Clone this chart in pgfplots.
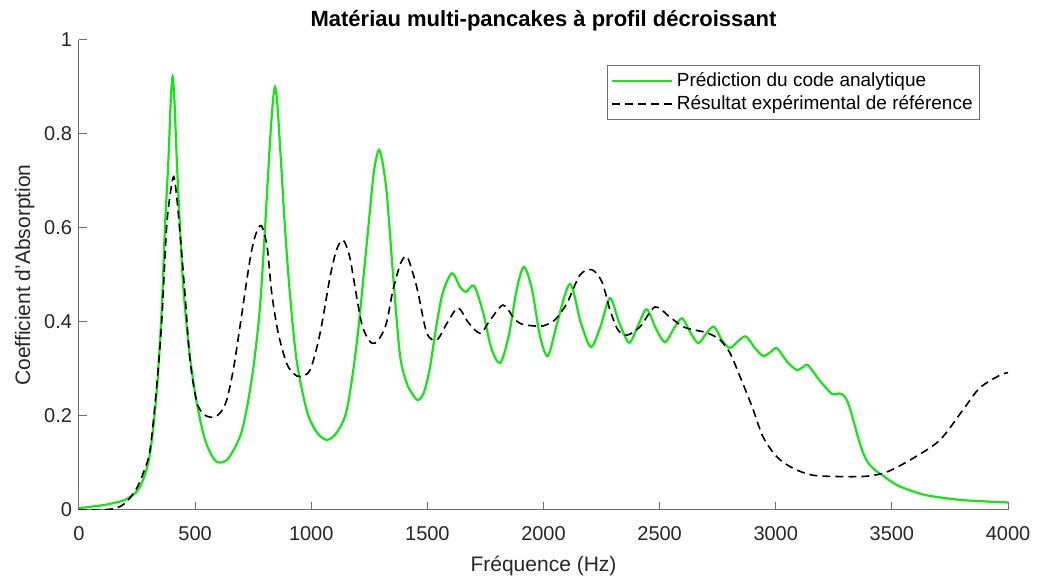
\documentclass[border=0pt]{standalone}
\usepackage{fontspec}
\setmainfont{Liberation Sans}
\usepackage{pgfplots}
\pgfplotsset{compat=1.18}
\definecolor{mygreen}{RGB}{20,230,20}
\definecolor{axgray}{RGB}{110,110,110}
\definecolor{txt}{RGB}{38,38,38}
\begin{document}
\begin{tikzpicture}
\begin{axis}[
  scale only axis,
  width=464.5pt, height=235pt,
  xmin=0, xmax=4000, ymin=0, ymax=1,
  axis x line*=bottom, axis y line*=left,
  axis line style={axgray, line width=0.5pt},
  xtick={0,500,...,4000},
  ytick={0,0.2,0.4,0.6,0.8,1},
  yticklabels={0,0.2,0.4,0.6,0.8,1},
  xticklabels={0,500,1000,1500,2000,2500,3000,3500,4000},
  tick align=inside,
  major tick length=4pt,
  tick style={axgray, line width=0.5pt},
  /pgf/number format/assume math mode=true,
  tick label style={font=\fontsize{10}{12}\selectfont, text=txt},
  xticklabel style={yshift=-4.5pt},
  title={\bfseries Matériau multi-pancakes à profil décroissant},
  title style={font=\fontsize{11}{13}\selectfont, text=black, yshift=-5pt},
  xlabel={Fréquence (Hz)},
  ylabel={Coefficient d'Absorption},
  label style={font=\fontsize{10.5}{12}\selectfont, text=txt},
  xlabel style={yshift=-1pt},
  ylabel style={yshift=-2pt},
  legend style={at={(0.97,0.947)}, anchor=north east, draw=axgray, line width=0.5pt,
    font=\fontsize{9.5}{11.5}\selectfont, text=black, inner sep=1.5pt, row sep=-1pt},
  legend image code/.code={\draw[#1] (0cm,0cm) -- (1.05cm,0cm);},
  legend cell align=left,
]
\addplot[mygreen, line width=1.1pt, smooth, tension=0.5] coordinates {
(0,0.004)(100,0.010)(150,0.015)(200,0.022)(250,0.040)(280,0.07)(306,0.121)(334,0.248)(356,0.425)(370,0.60)(385,0.745)(395,0.87)(403,0.922)(411,0.87)(421,0.745)(435,0.60)(449,0.475)(471,0.355)(500,0.248)(535,0.163)(565,0.122)(595,0.102)(640,0.108)(693,0.156)(720,0.21)(750,0.30)(779,0.43)(801,0.60)(822,0.78)(835,0.87)(844,0.90)(853,0.87)(865,0.78)(887,0.60)(908,0.461)(937,0.319)(980,0.213)(1020,0.168)(1066,0.149)(1110,0.165)(1153,0.213)(1196,0.355)(1239,0.567)(1267,0.709)(1283,0.755)(1292,0.766)(1305,0.745)(1325,0.674)(1353,0.496)(1382,0.33)(1411,0.27)(1438,0.245)(1460,0.234)(1485,0.25)(1510,0.30)(1535,0.38)(1565,0.46)(1606,0.504)(1640,0.475)(1666,0.464)(1701,0.477)(1740,0.42)(1775,0.345)(1813,0.313)(1850,0.37)(1885,0.47)(1916,0.517)(1950,0.47)(1985,0.37)(2019,0.328)(2060,0.40)(2114,0.481)(2160,0.40)(2204,0.347)(2245,0.39)(2286,0.451)(2325,0.40)(2368,0.356)(2405,0.39)(2444,0.427)(2485,0.385)(2523,0.357)(2560,0.385)(2596,0.408)(2630,0.38)(2666,0.355)(2700,0.375)(2734,0.39)(2770,0.36)(2803,0.345)(2840,0.36)(2872,0.369)(2910,0.345)(2945,0.328)(2975,0.335)(3005,0.344)(3050,0.315)(3091,0.298)(3120,0.305)(3139,0.308)(3190,0.275)(3242,0.247)(3270,0.248)(3290,0.245)(3305,0.235)(3320,0.215)(3340,0.18)(3360,0.145)(3380,0.117)(3400,0.099)(3430,0.084)(3462,0.073)(3522,0.053)(3600,0.038)(3664,0.030)(3806,0.021)(4000,0.016)
};
\addlegendentry{Prédiction du code analytique}
\addplot[black, line width=0.8pt, dash pattern=on 4pt off 2.5pt, smooth, tension=0.5] coordinates {
(0,0.0)(50,0.0)(100,0.0)(160,0.004)(200,0.015)(245,0.043)(277,0.079)(306,0.128)(334,0.26)(356,0.40)(377,0.60)(395,0.68)(408,0.709)(420,0.67)(435,0.589)(456,0.461)(478,0.319)(507,0.23)(535,0.205)(560,0.198)(586,0.198)(610,0.208)(636,0.234)(665,0.30)(693,0.39)(736,0.532)(760,0.585)(785,0.605)(810,0.56)(830,0.461)(858,0.376)(894,0.312)(925,0.29)(952,0.284)(995,0.298)(1038,0.376)(1081,0.496)(1110,0.555)(1138,0.574)(1165,0.54)(1181,0.496)(1217,0.397)(1250,0.36)(1274,0.355)(1300,0.37)(1325,0.40)(1352,0.468)(1385,0.525)(1412,0.539)(1440,0.50)(1460,0.462)(1498,0.376)(1541,0.362)(1584,0.397)(1632,0.43)(1675,0.40)(1727,0.376)(1770,0.404)(1826,0.436)(1870,0.41)(1899,0.397)(1950,0.392)(2000,0.392)(2050,0.405)(2101,0.44)(2157,0.50)(2209,0.511)(2252,0.485)(2286,0.426)(2321,0.383)(2359,0.372)(2416,0.39)(2480,0.432)(2545,0.41)(2601,0.39)(2650,0.383)(2704,0.377)(2760,0.362)(2803,0.334)(2846,0.284)(2898,0.22)(2945,0.156)(3005,0.113)(3074,0.089)(3160,0.074)(3290,0.071)(3393,0.072)(3479,0.081)(3591,0.11)(3707,0.149)(3806,0.213)(3879,0.26)(3966,0.287)(4000,0.292)
};
\addlegendentry{Résultat expérimental de référence}
\end{axis}
\path ([xshift=-39.5pt,yshift=-34pt]current axis.south west) rectangle ([xshift=14.5pt,yshift=20pt]current axis.north east);
\end{tikzpicture}
\end{document}
